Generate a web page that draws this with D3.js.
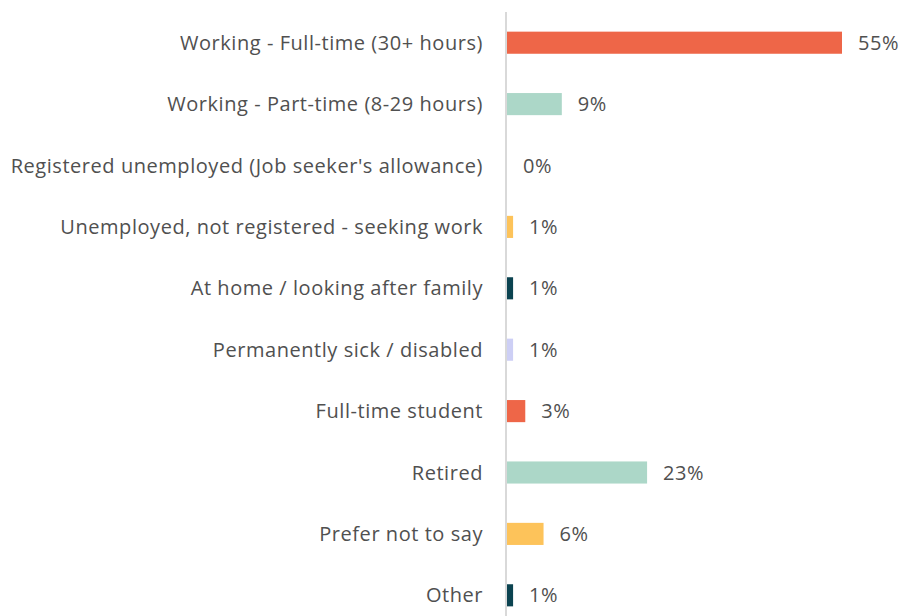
<!DOCTYPE html>
<html>
<head>
<meta charset="utf-8">
<script src="https://cdn.jsdelivr.net/npm/d3@7"></script>
<style>
  body { margin: 0; background: #fff; }
  text { font-family: "Open Sans", sans-serif; fill: #505050; font-size: 20px; letter-spacing: 0.55px; }
</style>
</head>
<body>
<div id="chart"></div>
<script>
// categories and values (percent)
const categories = [
  "Working - Full-time (30+ hours)",
  "Working - Part-time (8-29 hours)",
  "Registered unemployed (Job seeker's allowance)",
  "Unemployed, not registered - seeking work",
  "At home / looking after family",
  "Permanently sick / disabled",
  "Full-time student",
  "Retired",
  "Prefer not to say",
  "Other"
];
const values = [55, 9, 0, 1, 1, 1, 3, 23, 6, 1];
const colors = ["#ee6648", "#acd7c8", "#fdc35a", "#fdc35a", "#0b4350", "#cdcff5",
                "#ee6648", "#acd7c8", "#fdc35a", "#0b4350"];

const width = 902, height = 616;
const axisX = 507;

const svg = d3.select("#chart").append("svg")
    .attr("width", width)
    .attr("height", height);

const x = d3.scaleLinear()
    .domain([0, 55])
    .range([axisX, 842]);

const y = d3.scaleBand()
    .domain(categories)
    .range([12, 626])
    .paddingInner(0.64)
    .paddingOuter(0.32);

// bars
svg.selectAll("rect.bar")
    .data(values)
    .enter()
    .append("rect")
    .attr("class", "bar")
    .attr("x", x(0))
    .attr("y", (d, i) => y(categories[i]))
    .attr("width", d => x(d) - x(0))
    .attr("height", y.bandwidth())
    .attr("fill", (d, i) => colors[i]);

// vertical axis line
svg.append("line")
    .attr("x1", axisX - 1).attr("x2", axisX - 1)
    .attr("y1", 12).attr("y2", height)
    .attr("stroke", "#d9d9d9")
    .attr("stroke-width", 2);

// category labels
svg.selectAll("text.cat")
    .data(categories)
    .enter()
    .append("text")
    .attr("class", "cat")
    .attr("x", 483)
    .attr("y", d => y(d) + y.bandwidth() / 2)
    .attr("dy", "0.35em")
    .attr("text-anchor", "end")
    .text(d => d);

// value labels
svg.selectAll("text.val")
    .data(values)
    .enter()
    .append("text")
    .attr("class", "val")
    .attr("x", d => x(d) + 16)
    .attr("y", (d, i) => y(categories[i]) + y.bandwidth() / 2)
    .attr("dy", "0.35em")
    .text(d => d + "%");
</script>
</body>
</html>
